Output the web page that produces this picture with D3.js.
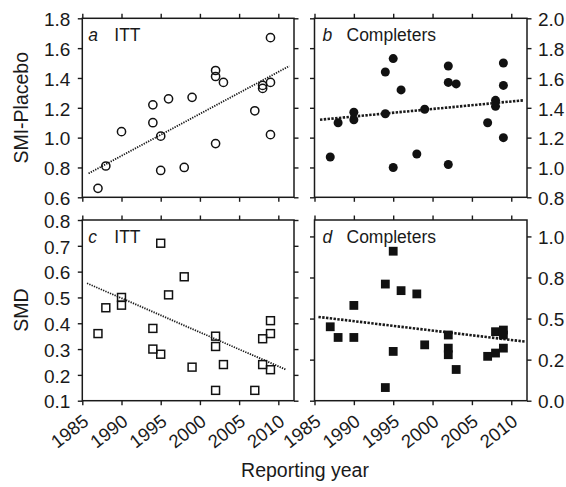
<!DOCTYPE html>
<html>
<head>
<meta charset="utf-8">
<script src="https://cdn.jsdelivr.net/npm/d3@7"></script>
<style>
    body { margin: 0; background: #fff; }
    svg text { font-family: "Liberation Sans", Arial, sans-serif; fill: #1a1a1a; }
    .tick line { stroke: #1a1a1a; stroke-width: 1.4px; }
</style>
</head>
<body>
<div id="chart"></div>
<script>

// ---- data ----
const yearsA = [1987, 1988, 1990, 1994, 1994, 1995, 1995, 1996, 1998, 1999, 2002, 2002, 2002, 2003, 2007, 2008, 2008, 2009, 2009, 2009];
const smiItt = [0.66, 0.81, 1.04, 1.22, 1.10, 1.01, 0.78, 1.26, 0.80, 1.27, 1.45, 1.41, 0.96, 1.37, 1.18, 1.35, 1.33, 1.67, 1.37, 1.02];

const yearsB = [1987, 1988, 1990, 1990, 1994, 1994, 1995, 1995, 1996, 1998, 1999, 2002, 2002, 2002, 2003, 2007, 2008, 2008, 2009, 2009, 2009];
const smiCompleters = [1.07, 1.30, 1.37, 1.32, 1.64, 1.36, 1.73, 1.00, 1.52, 1.09, 1.39, 1.68, 1.57, 1.02, 1.56, 1.30, 1.45, 1.41, 1.70, 1.55, 1.20];

const yearsC = [1987, 1988, 1990, 1990, 1994, 1994, 1995, 1995, 1996, 1998, 1999, 2002, 2002, 2002, 2003, 2007, 2008, 2008, 2009, 2009, 2009];
const smdItt = [0.36, 0.46, 0.50, 0.47, 0.38, 0.30, 0.71, 0.28, 0.51, 0.58, 0.23, 0.35, 0.31, 0.14, 0.24, 0.14, 0.34, 0.24, 0.41, 0.36, 0.22];

const yearsD = [1987, 1988, 1990, 1990, 1994, 1994, 1995, 1995, 1996, 1998, 1999, 2002, 2002, 2002, 2003, 2007, 2008, 2008, 2009, 2009, 2009];
const smdCompleters = [0.45, 0.385, 0.58, 0.385, 0.71, 0.08, 0.91, 0.30, 0.67, 0.65, 0.34, 0.40, 0.32, 0.28, 0.19, 0.27, 0.29, 0.42, 0.43, 0.40, 0.32];

// fitted trend lines (end points)
const trendA = [[1985.8, 0.76], [2011.4, 1.48]];
const trendB = [[1985.7, 1.32], [2011.5, 1.45]];
const trendC = [[1985.6, 0.555], [2011.0, 0.22]];
const trendD = [[1985.5, 0.51], [2011.7, 0.36]];

// axes
const yearTicks = [1985, 1990, 1995, 2000, 2005, 2010];
const yearDomain = [1985, 2012];
const smiTicksA = [0.6, 0.8, 1.0, 1.2, 1.4, 1.6, 1.8];
const smiTicksB = [0.8, 1.0, 1.2, 1.4, 1.6, 1.8, 2.0];
const smdTicksC = [0.1, 0.2, 0.3, 0.4, 0.5, 0.6, 0.7, 0.8];
const smdTicksD = [0, 0.25, 0.5, 0.75, 1.0];
const smdLabelsD = ["0.0", "0.2", "0.5", "0.8", "1.0"];


let svg = d3.select("#chart").append("svg")
    .attr("width", 566)
    .attr("height", 487);

const cols = [{x0: 82.3, x1: 294}, {x0: 314.5, x1: 527}];
const rows = [{y0: 18.3, y1: 197.3}, {y0: 220, y1: 400.7}];

const panels = [
    {col: 0, row: 0, letter: "a", name: "ITT", years: yearsA, values: smiItt, trend: trendA,
        yDomain: [0.6, 1.8], ticks: smiTicksA, labelSide: "left", marker: "circle", filled: false, thick: false},
    {col: 1, row: 0, letter: "b", name: "Completers", years: yearsB, values: smiCompleters, trend: trendB,
        yDomain: [0.8, 2.0], ticks: smiTicksB, labelSide: "right", marker: "circle", filled: true, thick: true},
    {col: 0, row: 1, letter: "c", name: "ITT", years: yearsC, values: smdItt, trend: trendC,
        yDomain: [0.1, 0.8], ticks: smdTicksC, labelSide: "left", marker: "square", filled: false, thick: false},
    {col: 1, row: 1, letter: "d", name: "Completers", years: yearsD, values: smdCompleters, trend: trendD,
        yDomain: [0, 1.1], ticks: smdTicksD, tickLabels: smdLabelsD, labelSide: "right", marker: "square", filled: true, thick: true}
];

const tickLen = 4.5;

panels.forEach(function (p) {
    let c = cols[p.col], r = rows[p.row];

    let x = d3.scaleLinear().domain(yearDomain).range([c.x0, c.x1]);
    let y = d3.scaleLinear().domain(p.yDomain).range([r.y1, r.y0]);

    let g = svg.append("g").attr("class", "panel");

    let fmt = p.tickLabels ? (d, i) => p.tickLabels[i] : d3.format(".1f");

    // y axes (labelled side + mirrored side)
    let yLeft = d3.axisLeft(y).tickValues(p.ticks).tickSize(tickLen).tickSizeOuter(0).tickPadding(7.5)
        .tickFormat(p.labelSide === "left" ? fmt : "");
    let yRight = d3.axisRight(y).tickValues(p.ticks).tickSize(tickLen).tickSizeOuter(0).tickPadding(6.5)
        .tickFormat(p.labelSide === "right" ? fmt : "");

    g.append("g").attr("transform", `translate(${c.x0},0)`).call(yLeft);
    g.append("g").attr("transform", `translate(${c.x1},0)`).call(yRight);

    // x axes
    let xTop = d3.axisTop(x).tickValues(yearTicks).tickSize(tickLen).tickSizeOuter(0).tickFormat("");
    let xBottom = d3.axisBottom(x).tickValues(yearTicks).tickSize(tickLen).tickSizeOuter(0)
        .tickFormat(p.row === 1 ? d3.format("d") : "");

    g.append("g").attr("transform", `translate(0,${r.y0})`).call(xTop);
    let xb = g.append("g").attr("transform", `translate(0,${r.y1})`).call(xBottom);

    if (p.row === 1) {
        xb.selectAll("text")
            .attr("x", 0).attr("y", 0).attr("dy", 0)
            .attr("text-anchor", "end")
            .attr("transform", "translate(7,23) rotate(-38)")
            .style("font-size", "18.5px");
    }

    g.selectAll(".domain").remove();
    g.selectAll(".tick text").filter(function () { return !d3.select(this).attr("transform"); })
        .attr("dy", "0.38em")
        .style("font-size", "19px");

    // frame
    g.append("rect")
        .attr("x", c.x0).attr("y", r.y0)
        .attr("width", c.x1 - c.x0).attr("height", r.y1 - r.y0)
        .attr("fill", "none")
        .attr("stroke", "#1a1a1a")
        .attr("stroke-width", 1.5);

    // trend line
    g.append("path")
        .datum(p.trend)
        .attr("d", d3.line().x(d => x(d[0])).y(d => y(d[1])))
        .attr("fill", "none")
        .attr("stroke", "#1a1a1a")
        .attr("stroke-width", p.thick ? 2.6 : 1.8)
        .attr("stroke-dasharray", p.thick ? "2.4,1.4" : "1.3,1.2");

    // points
    let pts = p.years.map((yr, i) => ({year: yr, value: p.values[i]}));
    let fill = p.filled ? "#111" : "none";

    if (p.marker === "circle") {
        g.selectAll(".pt").data(pts).enter()
            .append("circle")
            .attr("class", "pt")
            .attr("cx", d => x(d.year))
            .attr("cy", d => y(d.value))
            .attr("r", p.filled ? 4.5 : 4.1)
            .attr("fill", fill)
            .attr("stroke", "#111")
            .attr("stroke-width", p.filled ? 0 : 1.5);
    } else {
        let s = p.filled ? 8.8 : 7.9;
        g.selectAll(".pt").data(pts).enter()
            .append("rect")
            .attr("class", "pt")
            .attr("x", d => x(d.year) - s / 2)
            .attr("y", d => y(d.value) - s / 2)
            .attr("width", s)
            .attr("height", s)
            .attr("fill", fill)
            .attr("stroke", "#111")
            .attr("stroke-width", p.filled ? 0 : 1.5);
    }

    // panel label
    let lab = g.append("text")
        .attr("x", c.x0 + (p.col === 1 ? 8 : 6))
        .attr("y", r.y0 + 23)
        .style("font-size", "17.5px");
    lab.append("tspan").style("font-style", "italic").text(p.letter);
    lab.append("tspan").attr("x", c.x0 + 32).text(p.name);
});

// axis titles
svg.append("text")
    .attr("transform", "translate(28,107.8) rotate(-90)")
    .attr("text-anchor", "middle")
    .style("font-size", "19.5px")
    .text("SMI-Placebo");

svg.append("text")
    .attr("transform", "translate(28,310) rotate(-90)")
    .attr("text-anchor", "middle")
    .style("font-size", "19.5px")
    .text("SMD");

svg.append("text")
    .attr("x", 305)
    .attr("y", 477)
    .attr("text-anchor", "middle")
    .style("font-size", "19.5px")
    .text("Reporting year");

</script>
</body>
</html>
